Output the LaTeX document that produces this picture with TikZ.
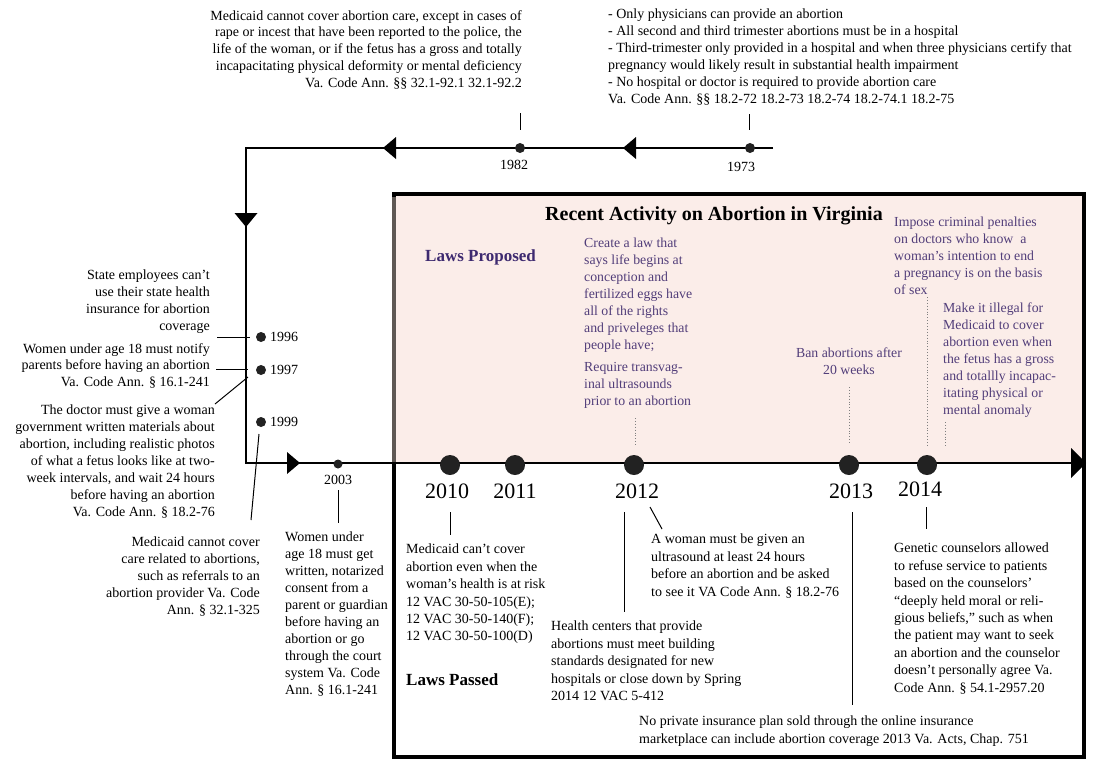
\documentclass[tikz,border=0pt]{standalone}
\usepackage{fontspec}
\setmainfont{Liberation Serif}
\definecolor{pinkbg}{RGB}{251,237,233}
\definecolor{purp}{RGB}{82,62,122}
\definecolor{purpd}{RGB}{62,42,112}
\definecolor{dotc}{RGB}{34,34,34}
\definecolor{edgegray}{RGB}{95,88,84}
\begin{document}
\begin{tikzpicture}[x=1pt,y=-1pt,
  txt/.style={inner sep=0pt, font=\fontsize{14}{16.9}\selectfont},
  btxt/.style={inner sep=0pt, font=\fontsize{14}{17.4}\selectfont},
  ptxt/.style={inner sep=0pt, text=purp, font=\fontsize{13.8}{16.9}\selectfont},
  yr/.style={inner sep=0pt, font=\fontsize{14}{16}\selectfont},
  bigyr/.style={inner sep=0pt, font=\fontsize{22}{26}\selectfont},
  smdot/.style={circle, fill=dotc, inner sep=0pt, minimum size=10pt},
  bigdot/.style={circle, fill=dotc, inner sep=0pt, minimum size=20pt},
  tline/.style={line width=1.3pt},
  tickline/.style={line width=1pt},
  dotline/.style={dotted, gray, line width=0.9pt}]
\useasboundingbox (0,0) rectangle (1113,772);

% box
\fill[pinkbg] (396,196) rectangle (1082,463);
\draw[line width=4.5pt] (394,194) rectangle (1084,757);
\draw[edgegray, line width=4.5pt] (394,196.5) -- (394,463);

% timeline
\coordinate (tTopR) at (773,148);
\coordinate (tCorner) at (246,148);
\coordinate (tBotL) at (246,463);
\coordinate (tEnd) at (1076,463);
\draw[tline] (tTopR) -- (tCorner) -- (tBotL) -- (tEnd);
\fill (383,148) -- (396,137) -- (396,159) -- cycle;
\fill (623,148) -- (636,137) -- (636,159) -- cycle;
\fill (246,227) -- (234.5,213) -- (257.5,213) -- cycle;
\fill (300,463) -- (287,452) -- (287,474) -- cycle;
\fill (1086,463) -- (1071,448) -- (1071,478) -- cycle;

% top events
\node[smdot] (d1982) at (520,148) {};
\node[smdot] (d1973) at (750,148) {};
\node[yr] (y1982) at (514,165) {1982};
\node[yr] (y1973) at (741,167) {1973};
\coordinate (k1982a) at (520,113); \coordinate (k1982b) at (520,130);
\coordinate (k1973a) at (749,114); \coordinate (k1973b) at (749,130);
\draw[tickline] (k1982a) -- (k1982b);
\draw[tickline] (k1973a) -- (k1973b);
\node[txt, align=right, anchor=north east] (t1982) at (522,10) {Medicaid cannot cover abortion care, except in cases of\\rape or incest that have been reported to the police, the\\life of the woman, or if the fetus has a gross and totally\\incapacitating physical deformity or mental deficiency\\Va. Code Ann. §§ 32.1-92.1 32.1-92.2};
\node[txt, align=left, anchor=north west] (t1973) at (608,9) {- Only physicians can provide an abortion\\- All second and third trimester abortions must be in a hospital\\- Third-trimester only provided in a hospital and when three physicians certify that\\pregnancy would likely result in substantial health impairment\\- No hospital or doctor is required to provide abortion care\\Va. Code Ann. §§ 18.2-72 18.2-73 18.2-74 18.2-74.1 18.2-75};

% left events
\node[smdot] (d1996) at (261,337) {};
\node[smdot] (d1997) at (261,370) {};
\node[smdot] (d1999) at (261,422) {};
\node[yr, anchor=west] (y1996) at (270,337) {1996};
\node[yr, anchor=west] (y1997) at (270,370) {1997};
\node[yr, anchor=west] (y1999) at (270,422) {1999};
\node[txt, align=right, anchor=north east] (t1996) at (210,270) {State employees can't\\use their state health\\insurance for abortion\\coverage};
\node[txt, align=right, anchor=north east] (t1997) at (210,343) {Women under age 18 must notify\\parents before having an abortion\\Va. Code Ann. § 16.1-241};
\node[txt, align=right, anchor=north east] (t1997b) at (215,405) {The doctor must give a woman\\government written materials about\\abortion, including realistic photos\\of what a fetus looks like at two-\\week intervals, and wait 24 hours\\before having an abortion\\Va. Code Ann. § 18.2-76};
\node[txt, align=right, anchor=north east] (t1999) at (260,537) {Medicaid cannot cover\\care related to abortions,\\such as referrals to an\\abortion provider Va. Code\\Ann. § 32.1-325};
\coordinate (c96a) at (217,337); \coordinate (c96b) at (250,337);
\coordinate (c97a) at (216,369); \coordinate (c97b) at (248,369);
\coordinate (c97c) at (248,377); \coordinate (c97d) at (215,404);
\coordinate (c99a) at (259,434); \coordinate (c99b) at (251,520);
\draw[tickline] (c96a) -- (c96b);
\draw[tickline] (c97a) -- (c97b);
\draw[tickline] (c97c) -- (c97d);
\draw[tickline] (c99a) -- (c99b);

% 2003
\node[circle, fill=dotc, inner sep=0pt, minimum size=9pt] (d2003) at (338,464) {};
\node[yr] (y2003) at (338,480) {2003};
\coordinate (c03a) at (338,490); \coordinate (c03b) at (338,523);
\draw[tickline] (c03a) -- (c03b);
\node[txt, align=left, anchor=north west] (t2003) at (285,532) {Women under\\age 18 must get\\written, notarized\\consent from a\\parent or guardian\\before having an\\abortion or go\\through the court\\system Va. Code\\Ann. § 16.1-241};

% box headings
\node[inner sep=0pt, anchor=base, font=\fontsize{20}{24}\selectfont\bfseries] (title) at (714,220) {Recent Activity on Abortion in Virginia};
\node[inner sep=0pt, anchor=base west, text=purpd, font=\fontsize{17}{20}\selectfont\bfseries] (lprop) at (425,261) {Laws Proposed};
\node[inner sep=0pt, anchor=base west, font=\fontsize{17}{20}\selectfont\bfseries] (lpass) at (406,685) {Laws Passed};

% recent dots
\node[bigdot] (d2010) at (450,465) {};
\node[bigdot] (d2011) at (515,465) {};
\node[bigdot] (d2012) at (634,465) {};
\node[bigdot] (d2013) at (849,465) {};
\node[bigdot] (d2014) at (927,465) {};
\node[bigyr] (y2010) at (447,491) {2010};
\node[bigyr] (y2011) at (515,491) {2011};
\node[bigyr] (y2012) at (637,491) {2012};
\node[bigyr] (y2013) at (851,491) {2013};
\node[bigyr] (y2014) at (920,489) {2014};

% proposed
\node[ptxt, align=left, anchor=north west] (p2012a) at (584,238) {Create a law that\\says life begins at\\conception and\\fertilized eggs have\\all of the rights\\and priveleges that\\people have;};
\node[ptxt, align=left, anchor=north west] (p2012b) at (584,362) {Require transvag-\\inal ultrasounds\\prior to an abortion};
\node[ptxt, align=center, anchor=north] (p2013) at (849,348) {Ban abortions after\\20 weeks};
\node[ptxt, align=left, anchor=north west] (p2014a) at (894,217) {Impose criminal penalties\\on doctors who know\ \ a\\woman's intention to end\\a pregnancy is on the basis\\of sex};
\node[ptxt, align=left, anchor=north west] (p2014b) at (943,303) {Make it illegal for\\Medicaid to cover\\abortion even when\\the fetus has a gross\\and totallly incapac-\\itating physical or\\mental anomaly};
\coordinate (q12a) at (635,418); \coordinate (q12b) at (635,445);
\coordinate (q13a) at (849,387); \coordinate (q13b) at (849,443);
\coordinate (q14a) at (927,297); \coordinate (q14b) at (927,447);
\coordinate (q14c) at (945,422); \coordinate (q14d) at (945,447);
\draw[dotline] (q12a) -- (q12b);
\draw[dotline] (q13a) -- (q13b);
\draw[dotline] (q14a) -- (q14b);
\draw[dotline] (q14c) -- (q14d);

% passed
\coordinate (r10a) at (450,512); \coordinate (r10b) at (450,535);
\coordinate (r12a) at (624,512); \coordinate (r12b) at (624,612);
\coordinate (r12c) at (650,507); \coordinate (r12d) at (662,529);
\coordinate (r13a) at (852,512); \coordinate (r13b) at (852,705);
\coordinate (r14a) at (926,507); \coordinate (r14b) at (926,529);
\draw[tickline] (r10a) -- (r10b);
\draw[tickline] (r12a) -- (r12b);
\draw[tickline] (r12c) -- (r12d);
\draw[tickline] (r13a) -- (r13b);
\draw[tickline] (r14a) -- (r14b);
\node[btxt, align=left, anchor=north west] (s2010) at (406,544) {Medicaid can't cover\\abortion even when the\\woman's health is at risk\\12 VAC 30-50-105(E);\\12 VAC 30-50-140(F);\\12 VAC 30-50-100(D)};
\node[btxt, align=left, anchor=north west] (s2012a) at (551,621) {Health centers that provide\\abortions must meet building\\standards designated for new\\hospitals or close down by Spring\\2014 12 VAC 5-412};
\node[btxt, align=left, anchor=north west] (s2012b) at (651,534) {A woman must be given an\\ultrasound at least 24 hours\\before an abortion and be asked\\to see it VA Code Ann. § 18.2-76};
\node[btxt, align=left, anchor=north west] (s2013) at (639,716) {No private insurance plan sold through the online insurance\\marketplace can include abortion coverage 2013 Va. Acts, Chap. 751};
\node[btxt, align=left, anchor=north west] (s2014) at (894,543) {Genetic counselors allowed\\to refuse service to patients\\based on the counselors'\\``deeply held moral or reli-\\gious beliefs,'' such as when\\the patient may want to seek\\an abortion and the counselor\\doesn't personally agree Va.\\Code Ann. § 54.1-2957.20};
\end{tikzpicture}
\end{document}
